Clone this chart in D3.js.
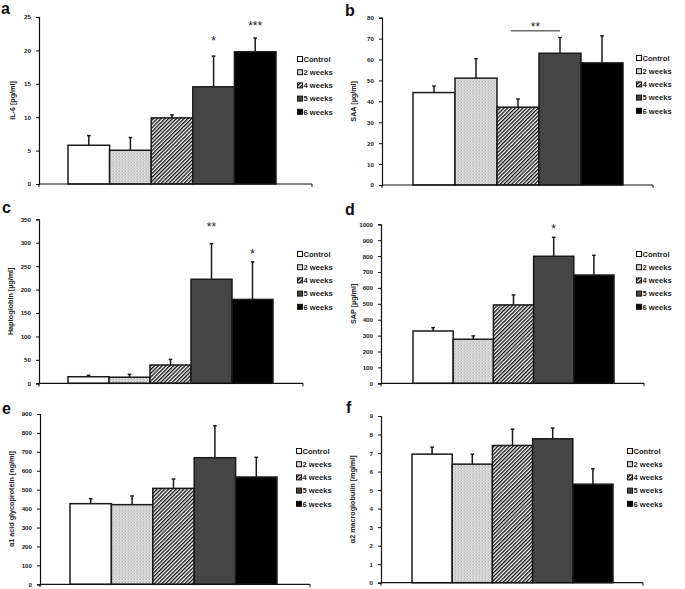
<!DOCTYPE html>
<html>
<head>
<meta charset="utf-8">
<script src="https://cdn.jsdelivr.net/npm/d3@7/dist/d3.min.js"></script>
<style>
  html, body { margin: 0; padding: 0; background: #fff; }
  svg { display: block; }
  text { font-family: "Liberation Sans", Arial, sans-serif; }
</style>
</head>
<body>
<script>
// ---------------- DATA ----------------
const categories = ["Control", "2 weeks", "4 weeks", "5 weeks", "6 weeks"];

const il6Values   = [5.8, 5.05, 9.9, 14.55, 19.8];
const il6Sd       = [1.45, 1.9, 0.45, 4.6, 2.05];
const il6Ticks    = [0, 5, 10, 15, 20, 25];
const il6Stars    = ["", "", "", "*", "***"];
const il6StarAt   = [null, null, null, 21.7, 23.9];

const saaValues   = [44.2, 51.1, 37.2, 63.0, 58.4];
const saaSd       = [3.1, 9.3, 3.9, 7.5, 12.9];
const saaTicks    = [0, 10, 20, 30, 40, 50, 60, 70, 80];
const saaBracket  = { from: "4 weeks", to: "5 weeks", label: "**", at: 73.7, labelAt: 76.5 };

const haptoValues = [14, 13, 39, 222, 179];
const haptoSd     = [3, 6, 12, 76, 80];
const haptoTicks  = [0, 50, 100, 150, 200, 250, 300, 350];
const haptoStars  = ["", "", "", "**", "*"];
const haptoStarAt = [null, null, null, 338, 280];

const sapValues   = [329, 277, 493, 799, 681];
const sapSd       = [21, 21, 63, 119, 124];
const sapTicks    = [0, 100, 200, 300, 400, 500, 600, 700, 800, 900, 1000];
const sapStars    = ["", "", "", "*", ""];
const sapStarAt   = [null, null, null, 985, null];

const agpValues   = [426, 421, 507, 669, 567];
const agpSd       = [26, 46, 49, 169, 104];
const agpTicks    = [0, 100, 200, 300, 400, 500, 600, 700, 800, 900];

const a2mValues   = [6.94, 6.40, 7.41, 7.77, 5.32];
const a2mSd       = [0.38, 0.54, 0.88, 0.58, 0.83];
const a2mTicks    = [0, 1, 2, 3, 4, 5, 6, 7, 8, 9];

// ---------------- LAYOUT ----------------
const W = 685, H = 589;
const svg = d3.select("body").append("svg").attr("width", W).attr("height", H);
const defs = svg.append("defs");

// dotted light grey pattern
const pd = defs.append("pattern").attr("id", "dots").attr("patternUnits", "userSpaceOnUse")
  .attr("width", 3).attr("height", 3);
pd.append("rect").attr("width", 3).attr("height", 3).attr("fill", "#cfcfcf");
pd.append("rect").attr("x", 0).attr("y", 0).attr("width", 1).attr("height", 1).attr("fill", "#ececec");
pd.append("rect").attr("x", 1.5).attr("y", 1.5).attr("width", 1).attr("height", 1).attr("fill", "#e6e6e6");
pd.append("rect").attr("x", 2).attr("y", 0).attr("width", 1).attr("height", 1).attr("fill", "#b8b8b8");

// upward diagonal hatch
const ph = defs.append("pattern").attr("id", "hatch").attr("patternUnits", "userSpaceOnUse")
  .attr("width", 2.7).attr("height", 2.7).attr("patternTransform", "rotate(45)");
ph.append("rect").attr("width", 2.7).attr("height", 2.7).attr("fill", "#fff");
ph.append("rect").attr("x", 0).attr("y", 0).attr("width", 1.35).attr("height", 2.7).attr("fill", "#111");

const fills = ["#ffffff", "url(#dots)", "url(#hatch)", "#454545", "#000000"];

const panels = [
  { letter: "a", values: il6Values, sd: il6Sd, ticks: il6Ticks, title: "IL-6 [pg/ml]",
    stars: il6Stars, starAt: il6StarAt,
    f: { x0: 39, x1: 312, y0: 184, y1: 17, bl: 68, br: 276 }, leg: { x: 297, y: 59 },
    lab: { x: 1, y: 14 }, tx: 12 },
  { letter: "b", values: saaValues, sd: saaSd, ticks: saaTicks, title: "SAA [µg/ml]",
    bracket: saaBracket,
    f: { x0: 382, x1: 653, y0: 185, y1: 17.7, bl: 413, br: 623 }, leg: { x: 636, y: 58 },
    lab: { x: 345, y: 16 }, tx: 353 },
  { letter: "c", values: haptoValues, sd: haptoSd, ticks: haptoTicks, title: "Haptoglobin [µg/ml]",
    stars: haptoStars, starAt: haptoStarAt,
    f: { x0: 39, x1: 303, y0: 383.3, y1: 219.3, bl: 68, br: 273 }, leg: { x: 297, y: 254 },
    lab: { x: 2, y: 213 }, tx: 10 },
  { letter: "d", values: sapValues, sd: sapSd, ticks: sapTicks, title: "SAP [µg/ml]",
    stars: sapStars, starAt: sapStarAt,
    f: { x0: 381, x1: 644, y0: 383.3, y1: 224.3, bl: 413, br: 614 }, leg: { x: 636, y: 254 },
    lab: { x: 345, y: 215 }, tx: 353 },
  { letter: "e", values: agpValues, sd: agpSd, ticks: agpTicks, title: "α1 acid glycoprotein [ng/ml]",
    f: { x0: 40, x1: 310, y0: 584.3, y1: 414, bl: 70, br: 277 }, leg: { x: 296, y: 451 },
    lab: { x: 2, y: 414 }, tx: 11 },
  { letter: "f", values: a2mValues, sd: a2mSd, ticks: a2mTicks, title: "α2 macroglobulin  [mg/ml]",
    f: { x0: 381, x1: 643, y0: 582.7, y1: 416, bl: 412, br: 613 }, leg: { x: 627, y: 451 },
    lab: { x: 346, y: 413 }, tx: 352 }
];

panels.forEach(p => {
  const g = svg.append("g");
  const f = p.f;
  const yMax = p.ticks[p.ticks.length - 1];
  const y = d3.scaleLinear().domain([0, yMax]).range([f.y0, f.y1]);
  const x = d3.scaleBand().domain(categories).range([f.bl, f.br]).padding(0);

  // panel letter
  g.append("text").attr("x", p.lab.x).attr("y", p.lab.y)
    .attr("font-size", 16).attr("font-weight", "bold").attr("fill", "#111").text(p.letter);

  // bars
  g.selectAll("rect.bar").data(categories).join("rect").attr("class", "bar")
    .attr("x", d => x(d)).attr("width", x.bandwidth())
    .attr("y", (d, i) => y(p.values[i])).attr("height", (d, i) => f.y0 - y(p.values[i]))
    .attr("fill", (d, i) => fills[i]).attr("stroke", "#1a1a1a").attr("stroke-width", 1.5);

  // error bars (upper only)
  const eb = g.selectAll("g.err").data(categories).join("g").attr("class", "err");
  eb.append("line")
    .attr("x1", d => x(d) + x.bandwidth() / 2).attr("x2", d => x(d) + x.bandwidth() / 2)
    .attr("y1", (d, i) => y(p.values[i])).attr("y2", (d, i) => y(p.values[i] + p.sd[i]))
    .attr("stroke", "#1a1a1a").attr("stroke-width", 1.5);
  eb.append("line")
    .attr("x1", d => x(d) + x.bandwidth() / 2 - 1.8).attr("x2", d => x(d) + x.bandwidth() / 2 + 1.8)
    .attr("y1", (d, i) => y(p.values[i] + p.sd[i])).attr("y2", (d, i) => y(p.values[i] + p.sd[i]))
    .attr("stroke", "#1a1a1a").attr("stroke-width", 1.5);

  // y axis
  const ya = d3.axisLeft(y).tickValues(p.ticks).tickSize(3).tickPadding(5).tickFormat(d3.format("d"));
  const yg = g.append("g").attr("transform", `translate(${f.x0},0)`).call(ya);
  yg.select(".domain").attr("stroke", "#111").attr("stroke-width", 1.2);
  yg.selectAll(".tick line").attr("stroke", "#111").attr("stroke-width", 1);
  yg.selectAll(".tick text").attr("font-size", 6.2).attr("font-weight", "bold")
    .attr("fill", "#222").attr("font-family", "'Liberation Sans', Arial, sans-serif");

  // x axis line with end ticks
  g.append("line").attr("x1", f.x0).attr("x2", f.x1).attr("y1", f.y0).attr("y2", f.y0)
    .attr("stroke", "#111").attr("stroke-width", 1.2);
  [f.x0, f.x1].forEach(xx => g.append("line").attr("x1", xx).attr("x2", xx)
    .attr("y1", f.y0).attr("y2", f.y0 + 3).attr("stroke", "#111").attr("stroke-width", 1));

  // y title
  g.append("text").attr("transform", `translate(${p.tx},${(f.y0 + f.y1) / 2}) rotate(-90)`)
    .attr("text-anchor", "middle").attr("dominant-baseline", "central")
    .attr("font-size", 7.2).attr("font-weight", "bold").attr("fill", "#222").text(p.title);

  // stars
  if (p.stars) {
    categories.forEach((c, i) => {
      if (!p.stars[i]) return;
      g.append("text").attr("x", x(c) + x.bandwidth() / 2).attr("y", y(p.starAt[i]) + 6)
        .attr("text-anchor", "middle").attr("font-size", 12).attr("fill", "#222").text(p.stars[i]);
    });
  }
  if (p.bracket) {
    const b = p.bracket;
    const xa = x(b.from) + x.bandwidth() * 0.33, xb = x(b.to) + x.bandwidth() * 0.5;
    g.append("line").attr("x1", xa).attr("x2", xb)
      .attr("y1", y(b.at)).attr("y2", y(b.at)).attr("stroke", "#222").attr("stroke-width", 1);
    g.append("text").attr("x", (xa + xb) / 2).attr("y", y(b.labelAt) + 6)
      .attr("text-anchor", "middle").attr("font-size", 12).attr("fill", "#222").text(b.label);
  }

  // legend
  const lg = g.append("g").attr("transform", `translate(${p.leg.x},${p.leg.y})`);
  const items = lg.selectAll("g").data(categories).join("g")
    .attr("transform", (d, i) => `translate(0,${i * 13.2})`);
  items.append("rect").attr("x", 0.5).attr("y", -2.5).attr("width", 5).attr("height", 5)
    .attr("fill", (d, i) => fills[i]).attr("stroke", "#111").attr("stroke-width", 1);
  items.append("text").attr("x", 6.5).attr("y", 2.8)
    .attr("font-size", 7.6).attr("font-weight", "bold").attr("fill", "#222").text(d => d);
});
</script>
</body>
</html>
